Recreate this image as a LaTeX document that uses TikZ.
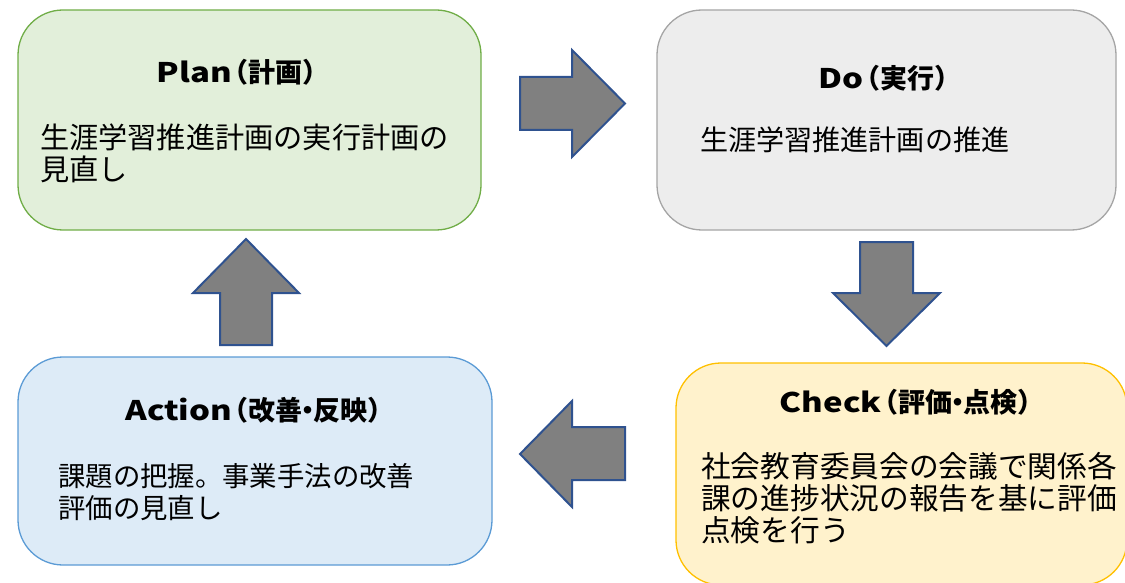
\documentclass[tikz,border=0pt]{standalone}
\usepackage{fontspec}
\setmainfont{Noto Sans CJK JP}
\newfontfamily\latwide[FakeStretch=1.22]{Noto Sans CJK JP}
\newcommand{\titlelat}[1]{{\latwide #1}\kern-0.38em}
\newcommand{\middot}{\kern-0.3em・\kern-0.3em}
\definecolor{planfill}{HTML}{E2EFDA}
\definecolor{plandraw}{HTML}{70AD47}
\definecolor{dofill}{HTML}{EDEDED}
\definecolor{dodraw}{HTML}{A5A5A5}
\definecolor{actfill}{HTML}{DDEBF7}
\definecolor{actdraw}{HTML}{5B9BD5}
\definecolor{chkfill}{HTML}{FFF2CC}
\definecolor{chkdraw}{HTML}{FFC000}
\definecolor{arrfill}{HTML}{808080}
\definecolor{arrdraw}{HTML}{2F528F}
\tikzset{
  box/.style={rectangle, rounded corners=45pt, line width=1.3pt, inner sep=0pt},
  titletext/.style={inner sep=0pt, anchor=center, font=\fontsize{27}{30}\selectfont\bfseries},
  bodytext/.style={inner sep=0pt, anchor=north west, align=left},
  blockarrow/.style={fill=arrfill, draw=arrdraw, line width=2pt, line join=miter}
}
\begin{document}
\begin{tikzpicture}[x=1pt, y=-1pt]
\useasboundingbox (0,0) rectangle (1125,583);
\clip (0,0) rectangle (1125,583);
% boxes
\node[box, fill=planfill, draw=plandraw, minimum width=463pt, minimum height=220pt] (plan) at (249.5,120) {};
\node[box, fill=dofill, draw=dodraw, minimum width=459pt, minimum height=220pt] (do) at (886.5,120) {};
\node[box, fill=actfill, draw=actdraw, minimum width=474pt, minimum height=208pt] (act) at (255,461) {};
\node[box, fill=chkfill, draw=chkdraw, minimum width=451pt, minimum height=222pt] (chk) at (901.5,474) {};
% titles
\node[titletext] (plant) at (243,72) {\titlelat{Plan}（計画）};
\node[titletext] (dot) at (890,78) {\titlelat{Do}（実行）};
\node[titletext] (actt) at (260,410) {\titlelat{Action}（改善\middot 反映）};
\node[titletext] (chkt) at (912,402) {\titlelat{Check}（評価\middot 点検）};
% bodies
\node[bodytext, font=\fontsize{29.2}{32}\selectfont] (planb) at (40,124) {生涯学習推進計画の実行計画の\\見直し};
\node[bodytext, font=\fontsize{28.1}{32}\selectfont] (dob) at (700,127) {生涯学習推進計画の推進};
\node[bodytext, font=\fontsize{27.4}{32}\selectfont] (actb) at (58,463) {課題の把握。事業手法の改善\\評価の見直し};
\node[bodytext, font=\fontsize{29.7}{32}\selectfont] (chkb) at (701,452) {社会教育委員会の会議で関係各\\課の進捗状況の報告を基に評価\\点検を行う};
% block arrows
\draw[blockarrow] (520,77) -- (572,77) -- (572,50) -- (625,103.5) -- (572,157) -- (572,130) -- (520,130) -- cycle;
\draw[blockarrow] (860,242) -- (913,242) -- (913,293) -- (940,293) -- (886.5,346) -- (833,293) -- (860,293) -- cycle;
\draw[blockarrow] (625,427) -- (572,427) -- (572,401) -- (520,454) -- (572,507) -- (572,480) -- (625,480) -- cycle;
\draw[blockarrow] (246,239) -- (299,293) -- (272,293) -- (272,345) -- (220,345) -- (220,293) -- (193,293) -- cycle;
\end{tikzpicture}
\end{document}
